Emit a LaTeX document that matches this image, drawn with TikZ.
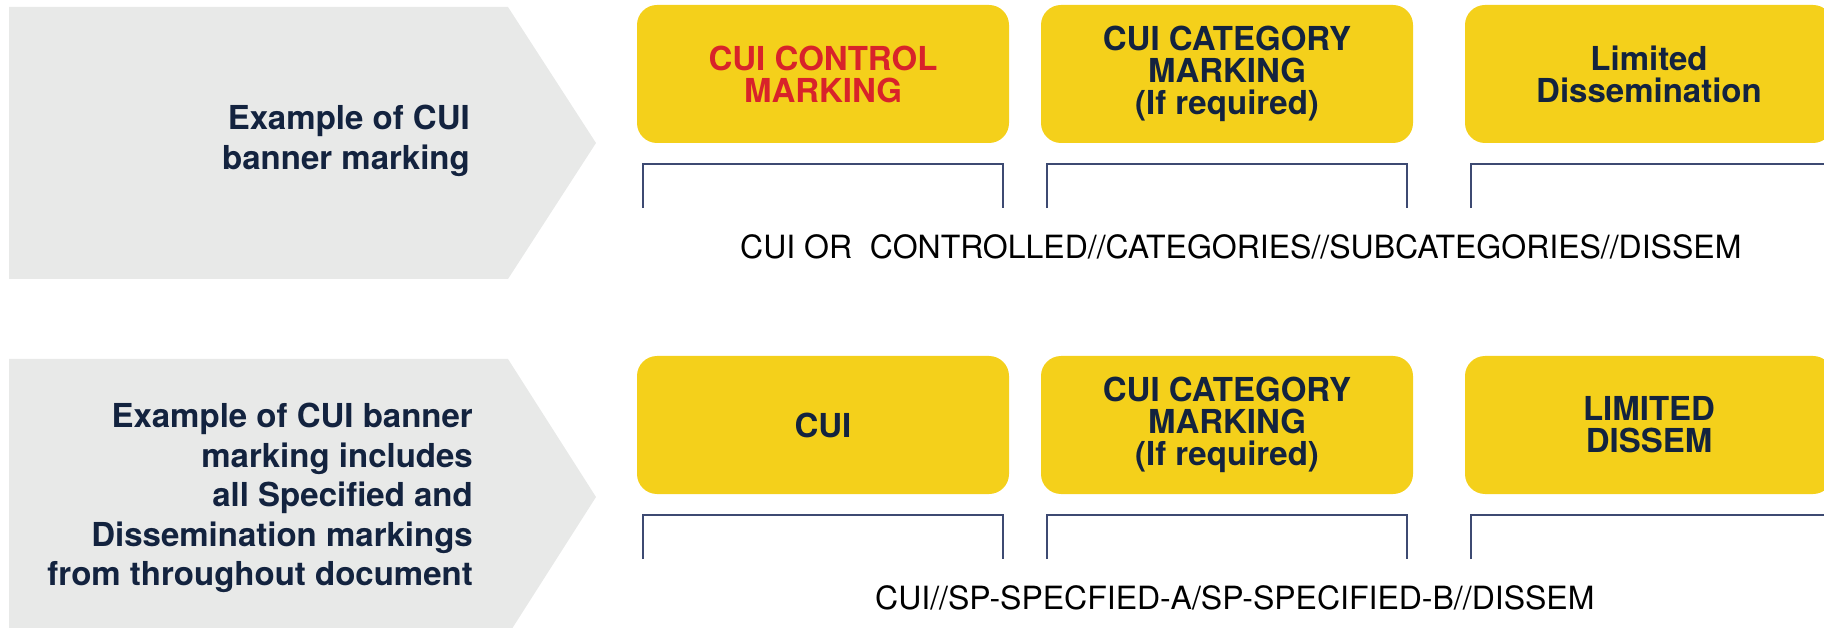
\documentclass[tikz,border=0pt]{standalone}
\usepackage{fontspec}
\setmainfont{TeX Gyre Heros}
\definecolor{panelgrey}{HTML}{E8E9E8}
\definecolor{tagyellow}{HTML}{F4D01B}
\definecolor{navy}{HTML}{13233F}
\definecolor{alertred}{HTML}{D8232A}
\definecolor{braceblue}{HTML}{3D4A72}
\begin{document}
\begin{tikzpicture}[x=1pt,y=-1pt,
  lead/.style={fill=panelgrey, draw=none},
  leadtext/.style={font=\fontsize{33}{39.5}\selectfont\bfseries, text=navy,
    align=right, inner sep=0pt, anchor=east},
  tag/.style={fill=tagyellow, rounded corners=20pt, minimum width=372pt,
    minimum height=138pt, inner sep=0pt, align=center,
    font=\fontsize{33}{32}\selectfont\bfseries, text=navy},
  brace/.style={draw=braceblue, line width=2pt},
  banner/.style={font=\fontsize{32}{36}\selectfont, text=black,
    inner sep=0pt, anchor=base west}]
\useasboundingbox (0,0) rectangle (1824,628);
\clip (0,0) rectangle (1824,628);

% grey lead-in arrows
\path[lead] (9,7) -- (508,7) -- (596,143) -- (508,279) -- (9,279) -- cycle;
\path[lead] (9,359) -- (508,359) -- (596,497) -- (508,635) -- (9,635) -- cycle;

\node[leadtext] (l1) at (470,141) {Example of CUI\\banner marking};
\node[leadtext] (l2) at (473,498) {Example of CUI banner\\marking includes\\all Specified and\\Dissemination markings\\from throughout document};

% first row of marking boxes
\node[tag, text=alertred] (b1) at (823,74) {CUI CONTROL\\MARKING};
\node[tag] (b2) at (1227,74) {CUI CATEGORY\\MARKING\\(If required)};
\node[tag, minimum width=368pt] (b3) at (1649,74) {Limited\\Dissemination};

% second row of marking boxes
\node[tag] (c1) at (823,425) {CUI};
\node[tag] (c2) at (1227,425) {CUI CATEGORY\\MARKING\\(If required)};
\node[tag, minimum width=368pt] (c3) at (1649,425) {LIMITED\\DISSEM};

% brackets under each box
\foreach \b in {b1,b2,c1,c2}{
  \draw[brace] ([xshift=6pt,yshift=-65pt]\b.south west)
    -- ([xshift=6pt,yshift=-21pt]\b.south west)
    -- ([xshift=-6pt,yshift=-21pt]\b.south east)
    -- ([xshift=-6pt,yshift=-65pt]\b.south east);
}
\foreach \b in {b3,c3}{
  \draw[brace] ([xshift=6pt,yshift=-65pt]\b.south west)
    -- ([xshift=6pt,yshift=-21pt]\b.south west)
    -- ([xshift=20pt,yshift=-21pt]\b.south east);
}

% banner strings
\node[banner] (s1) at (740,259) {CUI OR\ \ CONTROLLED//CATEGORIES//SUBCATEGORIES//DISSEM};
\node[banner] (s2) at (875,609) {CUI//SP-SPECFIED-A/SP-SPECIFIED-B//DISSEM};
\end{tikzpicture}
\end{document}
